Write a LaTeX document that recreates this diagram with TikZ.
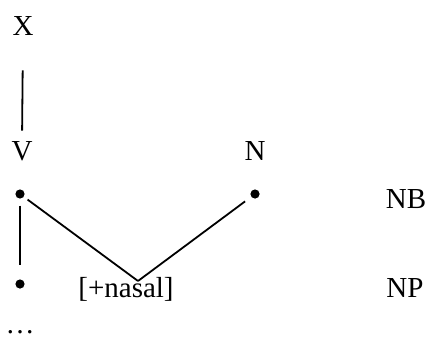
\documentclass[tikz,border=0pt]{standalone}
\usepackage{fontspec}
\setmainfont{Liberation Serif}

\begin{document}
\begin{tikzpicture}[
  x=0.5pt,
  y=-0.5pt,
  every node/.style={font=\fontsize{14.5pt}{17pt}\selectfont, inner sep=0pt, anchor=base},
  tier/.style={black, line width=0.9pt},
  slot/.style={circle, fill=black, minimum size=4.6pt, inner sep=0pt, anchor=center}
]
  % ---- fixed frame --------------------------------------------------------
  \path (0,0) rectangle (431,336);

  % ---- category labels ----------------------------------------------------
  \node (X) at (23,36) {X};
  \node (V) at (22,160) {V};
  \node (N) at (255,160) {N};

  % ---- tier names -----------------------------------------------------------
  \node (NB) at (406,208) {NB};
  \node (NP) at (405,297) {NP};

  % ---- skeletal slots -------------------------------------------------------
  \node[slot] (vslot) at (20,194) {};
  \node[slot] (nslot) at (255,194) {};
  \node[slot] (pslot) at (20,284) {};

  % ---- the feature and the trailing dots -----------------------------------
  \node (nasal) at (126,297) {[+nasal]};
  \coordinate (apex) at (138,281);
  \node (more) at (20,333) {…};

  % ---- association lines ----------------------------------------------------
  \draw[tier, shorten <=17pt, shorten >=5pt] (X.south) -- (V.north);
  \draw[tier, shorten <=3.3pt, shorten >=6.8pt] (vslot) -- (pslot);
  \draw[tier, shorten <=2.2pt] (vslot) -- (apex);
  \draw[tier, shorten <=3.7pt] (nslot) -- (apex);
\end{tikzpicture}
\end{document}
